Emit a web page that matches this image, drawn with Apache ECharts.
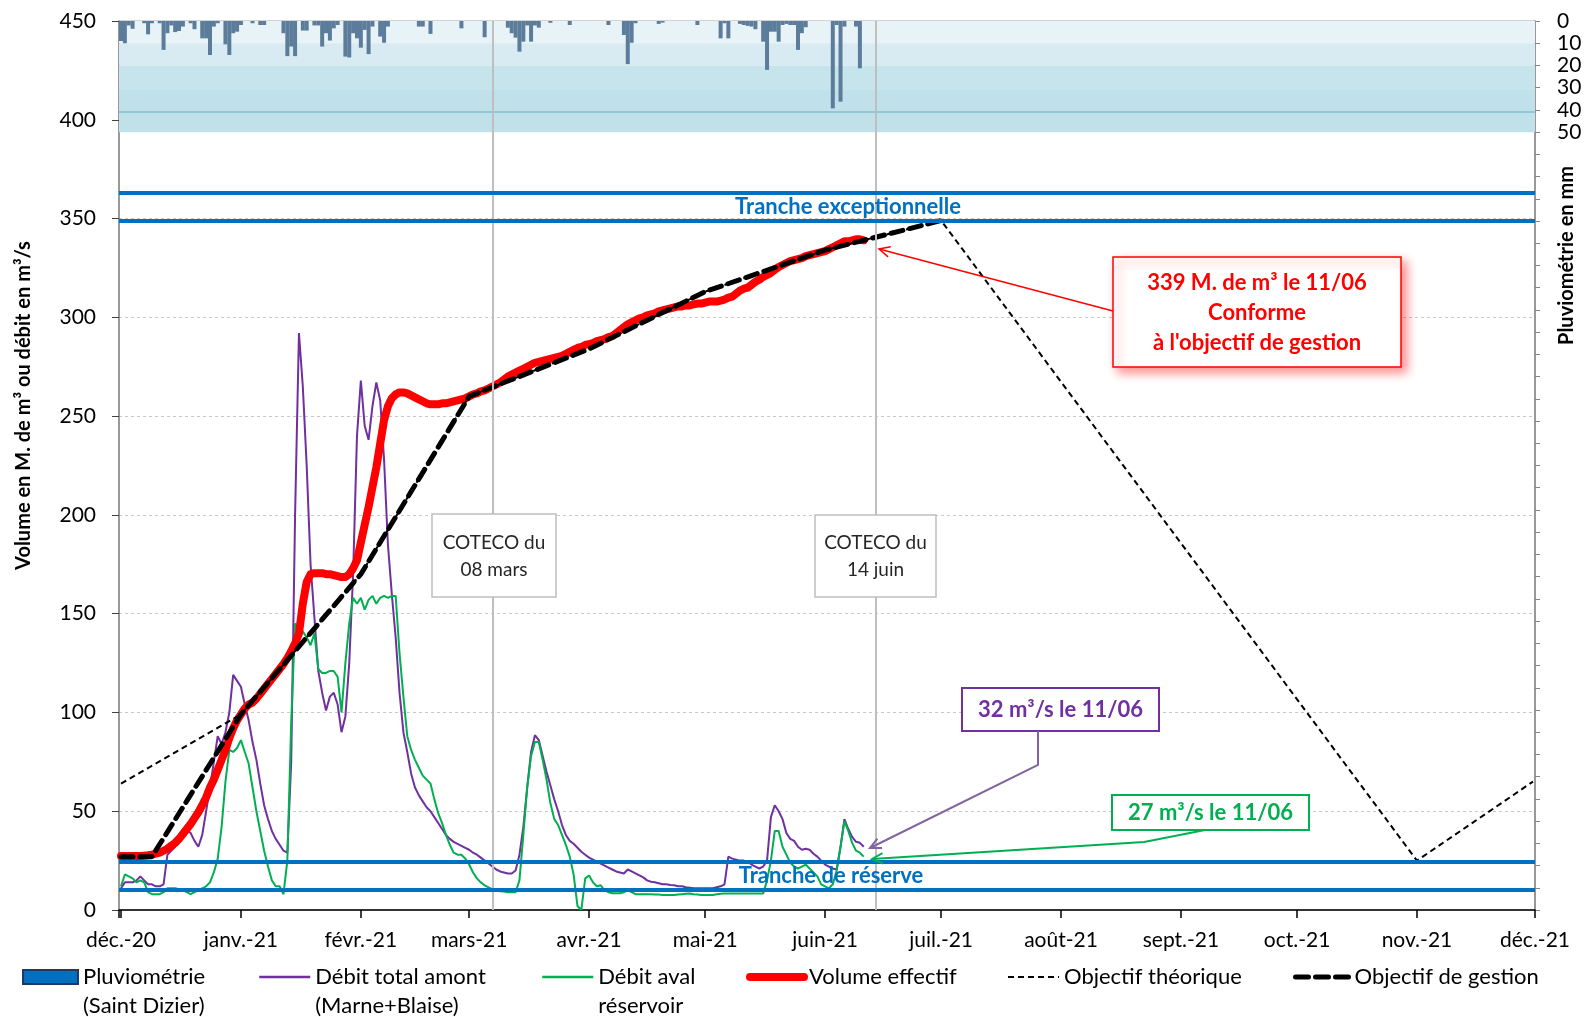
<!DOCTYPE html>
<html><head><meta charset="utf-8">
<script src="https://cdn.jsdelivr.net/npm/echarts@6/dist/echarts.min.js"></script>
<style>html,body{margin:0;padding:0;background:#fff}#c{width:1587px;height:1017px}</style>
</head><body><div id="c"></div>
<script>
const FONT = 'Lato';
const monthLabels = ['déc.-20','janv.-21','févr.-21','mars-21','avr.-21','mai-21','juin-21','juil.-21','août-21','sept.-21','oct.-21','nov.-21','déc.-21'];
// daily values from 2020-12-01 to 2021-06-11
const pluvio = [
 9,10,2,3.5,0,0,1,6,1,0,
 1,13,5.5,2,5,4.5,2.5,0,1,3.7,
 0,7.8,7.8,15.3,2.5,1,0,10.5,15.3,5.5,
 4.8,1.8,0,0,1,0,1.8,1.8,0,0,
 0,0,5.5,15.8,11.5,15.8,0,4.3,4.3,0,
 2,2,11.5,5.5,8.8,3.3,1.8,0,16,16.4,
 5.5,7.8,12,4,14.9,2.5,0,7,9.8,2.5,
 0,0,0,0,0,0,0,2.5,2.5,0,
 5.8,0,0,0,0,0,0,0,3.3,0,
 0,0,0,0,7.3,0,0,0,0,0,
 3,5.5,7.5,13.8,9.3,2,9.3,2,3,0,
 0,0.8,0,0,0,0,1.8,0,0,0,
 0,0,0,0,0,0,1.8,0,0,0,
 6.3,19.4,9.8,1,0,0,0,0,0,1.3,
 0.7,0,0,0,0,0,0,0,0,1.8,
 0,0,0,0,0,7.8,1,7.8,0,0,
 1.3,1.8,2.2,2.5,3.7,0,9.3,22,4.8,4.8,
 9.3,1.8,1.3,1.8,1.8,13,5.5,2.8,0,0,
 0,0,0,0,39.3,1.8,36.3,2.5,0,0,
 2.5,21.3,0];
const debitAmont = [
 11,14,14,14,15,17,15,13,13,12,
 12,13,28,30,32,36,41,40,39,35,
 32,38,50,62,75,88,84,90,100,119,
 116,113,104,96,85,76,64,53,46,40,
 36,33,30,29,75,200,292,265,225,175,
 148,121,110,101,108,110,104,90,98,125,
 170,240,268,245,238,255,267,258,228,185,
 160,138,110,90,80,69,62,58,55,52,
 50,47,44,41,38,36,34.5,33.5,32.5,31.5,
 30.5,29,28,26.5,25,23.5,22,20.5,19.5,19,
 18.5,18.5,20,28,42,62,80,88.5,86,78,
 70,63,56,50,43,38,35,33.5,31.5,29.5,
 28,26.5,25.5,24.5,23.5,22.5,21.5,20.5,19.5,19,
 18.5,20.5,19.5,18.5,17.5,16.5,15,14.3,14,13.5,
 13,13,12.7,12.5,12,12,11.5,11.3,11,11,
 11,11,11,11,11.5,12,13,27,26,25.5,
 25,25,24.5,23,22,21,22,25,47,53,
 50,46,39,36,35,32,30.5,31,30.5,28.5,
 27,25,23,22,21,20.5,32,46,41,37,
 34.5,34,32];
const debitAval = [
 12,18,17,16,14,15,14,9,8,8,
 8,9,11,11,11,10.5,10,9,8,9,
 10,11,12,14,19,26,42,65,81,80,
 82,86,80,74,62,50,40,30,22,15,
 12,12,8,25,95,145,143,141,138,134,
 140,122,120,120,121,121,118,100,125,145,
 158,155,158,152,157,159,155,158,159,158,
 159,159,130,108,88,81,76,72,68,66,
 64,56,49,44,38,33,29,28,28,26,
 23,19,16,14,12.5,11.5,10.5,10,9.5,9.3,
 9,9,9,15,38,62,78,85,85,76,
 66,54,46,43,38,33,27,18,2,0,
 16,17.5,14,12,12.5,10,9,8.5,8.5,8.5,
 9,10,9,8,8,8,8,8,7.8,7.8,
 7.6,7.6,7.6,7.6,7.8,8,8.2,8.4,8,7.8,
 7.6,7.6,7.6,7.6,8,8.2,8.4,8.4,8.4,8.4,
 8.4,8.4,8.4,8.4,8.4,8.4,8.4,15,25,40,
 40,32,28,24,22,21,22,23,21,19,
 17,13,12,11,13,20,32,45,40,34,
 30,29,27];
const volume = [
 27.3,27.3,27.3,27.3,27.3,27.3,27.5,27.7,28,28.5,
 29,30,31,32.5,34,36,38.5,41,43.5,46.5,
 49.5,53,57,62,66,71,76,81,87,92,
 96,99,102,104,105,107,109.5,112,114.5,117,
 119.5,122,124.5,127.5,131,135,140,155,166,170,
 170.5,170.5,170.5,170,170,169.5,169,168.5,168.5,170,
 173,177,186,195,204,214,224,236,248,255,
 259,261,262,262,261.5,260.5,259.5,258.5,257.5,256.5,
 256,256,256,256.5,256.5,257,257.5,258,258.5,259,
 260,261,261.5,262.5,263,264,265,266,267,268.5,
 270,271,272,273,274,275,276,277,277.5,278,
 278.5,279,279.5,280,280.5,281.5,282.5,283.5,284.5,285,
 286,286.5,287,288,288.5,289,290,290.5,292,293.5,
 295,296.5,297.5,298.5,299.5,300,301,301.5,302,303,
 303.5,304,304.5,305,305.5,305.5,306,306,306.5,307,
 307,307.5,308,308,308,308.5,309,310,310.5,312,
 313.5,314.5,315,316.5,318,319,320.5,321.5,322.5,324,
 325.5,326.5,327.5,328.5,329,329.5,330,331,331.5,332,
 332.5,333,333.5,334.5,335.5,336.5,337.5,338.5,338.5,339,
 339.5,339.5,339];
const gestionDates = ['2020-12-01','2020-12-09','2021-01-01','2021-02-01','2021-03-01','2021-04-01','2021-05-01','2021-06-01','2021-07-01'];
const gestionValues = [27, 27, 99, 170, 260, 284, 313, 334, 349];
const theoDates = ['2020-12-01','2021-01-01','2021-02-01','2021-03-01','2021-04-01','2021-05-01','2021-06-01','2021-07-01','2021-11-01','2021-12-01'];
const theoValues = [64, 99, 170, 260, 284, 313, 334, 349, 25, 65];
const trancheExc = [363, 349];
const trancheRes = [24.5, 10];
const cotecoDates = ['2021-03-07', '2021-06-14'];
const bandLimits = [0, 10, 20, 31, 50];
const bandColors = ['#e8f3f8', '#d8ebf2', '#c6e4ec', '#c0e1e9'];

function dayDate(i){ return new Date(2020, 11, 1 + i).getTime(); }
function parseD(s){ const p = s.split('-').map(Number); return new Date(p[0], p[1]-1, p[2]).getTime(); }
const daily = arr => arr.map((v, i) => [dayDate(i), v]);
const pairs = (ds, vs) => ds.map((d, i) => [parseD(d), vs[i]]);

function arrowHead(tip, from, len, ang){
  const dx = from[0]-tip[0], dy = from[1]-tip[1], L = Math.hypot(dx, dy);
  const ux = dx/L, uy = dy/L, c = Math.cos(ang), s = Math.sin(ang);
  return [[tip[0]+len*(ux*c-uy*s), tip[1]+len*(ux*s+uy*c)], tip, [tip[0]+len*(ux*c+uy*s), tip[1]+len*(-ux*s+uy*c)]];
}

const chart = echarts.init(document.getElementById('c'), null, {renderer:'canvas'});
const legendBase = {orient:'horizontal', padding:0, itemGap:0, selectedMode:false, itemWidth:51, itemHeight:14,
  textStyle:{fontFamily:FONT, fontSize:22, color:'#000', lineHeight:29}};
const L1 = 962.5, L3 = 933.5;
const hideSym = {opacity: 0, color: 'rgba(0,0,0,0)', borderWidth: 0};

const purpleTip = [870, 848], greenTip = [872, 859], redTip = [879, 249];
const purplePts = [[1038, 731], [1038, 765], purpleTip];
const greenPts = [[1205, 830], [1144, 842], greenTip];
const redPts = [[1113, 311], redTip];
const xMin = parseD('2020-12-01'), xMax = parseD('2021-12-01');

const option = {
  animation: false,
  backgroundColor: '#fff',
  grid: {left: 119, right: 52, top: 21, bottom: 107, containLabel: false, outerBoundsMode: 'none', show: true, borderColor: '#a6a6a6', borderWidth: 1},
  legend: [
    Object.assign({}, legendBase, {left: 22, top: L3, itemWidth: 55, data: [{name: 'Pluviométrie (Saint Dizier)', icon: 'rect', itemStyle: {color: '#0070c0', borderColor: '#1f3864', borderWidth: 2}}], formatter: () => '\nPluviométrie\n(Saint Dizier)'}),
    Object.assign({}, legendBase, {left: 258, top: L3, data: [{name: 'Débit total amont (Marne+Blaise)', itemStyle: hideSym, lineStyle: {width: 2.5}}], formatter: () => '\nDébit total amont\n(Marne+Blaise)'}),
    Object.assign({}, legendBase, {left: 541, top: L3, data: [{name: 'Débit aval réservoir', itemStyle: hideSym, lineStyle: {width: 2.5}}], formatter: () => '\nDébit aval\nréservoir'}),
    Object.assign({}, legendBase, {left: 746, top: L1, itemWidth: 54, data: [{name: 'Volume effectif', itemStyle: hideSym, lineStyle: {width: 8, cap: 'round'}}]}),
    Object.assign({}, legendBase, {left: 1007, top: L1, data: [{name: 'Objectif théorique', itemStyle: hideSym, lineStyle: {width: 2, type: [6, 4]}}]}),
    Object.assign({}, legendBase, {left: 1293, top: L1, itemWidth: 54, data: [{name: 'Objectif de gestion', itemStyle: hideSym, lineStyle: {width: 5, type: [13, 7], cap: 'round'}}]})
  ],
  xAxis: {
    type: 'time', min: xMin, max: xMax,
    splitNumber: 12, minInterval: 28*86400000, maxInterval: 31*86400000,
    axisLine: {show: true, lineStyle: {color: '#000', width: 1.5}},
    axisTick: {show: true, length: 8, lineStyle: {color: '#000', width: 1.5}},
    axisLabel: {fontFamily: FONT, fontSize: 21, color: '#000', margin: 20, showMinLabel: true, showMaxLabel: true,
      formatter: function(v){ const d = new Date(v); const k = (d.getFullYear()-2020)*12 + d.getMonth() - 11; return monthLabels[k] || ''; }},
    splitLine: {show: false}
  },
  yAxis: [
    {type: 'value', min: 0, max: 450, interval: 50, position: 'left',
     name: 'Volume en M. de m³ ou débit en m³/s', nameLocation: 'middle', nameGap: 85, nameRotate: 90,
     nameTextStyle: {fontFamily: FONT, fontWeight: 'bold', fontSize: 20, color: '#000', padding: [0, 0, 0, 120]},
     axisLine: {show: true, lineStyle: {color: '#868686', width: 1.5}},
     axisTick: {show: true, length: 7, lineStyle: {color: '#404040'}},
     axisLabel: {fontFamily: FONT, fontSize: 21, color: '#000', margin: 23},
     splitLine: {show: true, lineStyle: {color: '#c8c8c8', type: [3, 3]}}},
    {type: 'value', min: 0, max: 400, interval: 10, inverse: true, position: 'right',
     name: 'Pluviométrie en mm', nameLocation: 'middle', nameGap: 22, nameRotate: 90, nameMoveOverlap: false,
     nameTextStyle: {fontFamily: FONT, fontWeight: 'bold', fontSize: 20, color: '#000', padding: [0, 0, 0, 420]},
     axisLine: {show: true, lineStyle: {color: '#868686', width: 1.5}},
     axisTick: {show: true, length: 5, lineStyle: {color: '#868686'}},
     axisLabel: {fontFamily: FONT, fontSize: 21, color: '#000', margin: 22, formatter: v => (v <= 50 ? String(v) : '')},
     splitLine: {show: false}}
  ],
  series: [
    {name: 'Pluviométrie (Saint Dizier)', type: 'bar', yAxisIndex: 1, barWidth: 4, itemStyle: {color: '#5b7c9b'},
     data: daily(pluvio),
     markArea: {silent: true, data: bandColors.map((c, i) => [{yAxis: bandLimits[i], itemStyle: {color: c}}, {yAxis: bandLimits[i+1]}])},
     markLine: {silent: true, symbol: 'none', label: {show: false}, lineStyle: {color: '#8fc7d7', width: 2, type: 'solid'}, data: [{yAxis: 41}]}},
    {name: 'Débit total amont (Marne+Blaise)', type: 'line', symbol: 'none', lineStyle: {color: '#7030a0', width: 2}, itemStyle: {color: '#7030a0'},
     data: daily(debitAmont),
     markLine: {silent: true, symbol: 'none', label: {show: false}, lineStyle: {color: '#bfbfbf', width: 2, type: 'solid'},
       data: cotecoDates.map(d => ({xAxis: parseD(d)}))}},
    {name: 'Débit aval réservoir', type: 'line', symbol: 'none', lineStyle: {color: '#00b050', width: 2}, itemStyle: {color: '#00b050'},
     data: daily(debitAval)},
    {name: 'Volume effectif', type: 'line', symbol: 'none', lineStyle: {color: '#ff0000', width: 8, cap: 'round', join: 'round'}, itemStyle: {color: '#ff0000'},
     data: daily(volume)},
    {name: 'Objectif théorique', type: 'line', symbol: 'none', lineStyle: {color: '#000', width: 2, type: [6, 4]}, itemStyle: {color: '#000'},
     data: pairs(theoDates, theoValues)},
    {name: 'Objectif de gestion', type: 'line', symbol: 'none', lineStyle: {color: '#000', width: 5, type: [12, 7], cap: 'round'}, itemStyle: {color: '#000'},
     data: pairs(gestionDates, gestionValues),
     markLine: {silent: true, symbol: 'none', lineStyle: {color: '#0070c0', width: 4, type: 'solid'},
       label: {show: false},
       data: [
         {yAxis: trancheExc[0]},
         {yAxis: trancheExc[1], label: {show: true, formatter: 'Tranche exceptionnelle', position: 'insideMiddleTop', distance: 3, color: '#0070c0', fontFamily: FONT, fontWeight: 'bold', fontSize: 22, padding: [0, 0, 0, 42]}},
         {yAxis: trancheRes[0], label: {show: true, formatter: 'Tranche de réserve', position: 'insideMiddleBottom', distance: 3, color: '#0070c0', fontFamily: FONT, fontWeight: 'bold', fontSize: 22, padding: [0, 0, 0, 8]}},
         {yAxis: trancheRes[1]}
       ]}}
  ],
  graphic: [
    {type: 'rect', shape: {x: 432, y: 514, width: 124, height: 83}, style: {fill: '#fff', stroke: '#bfbfbf', lineWidth: 1.5}, z: 100},
    {type: 'text', x: 494, y: 556, style: {text: 'COTECO du\n08 mars', fontFamily: FONT, fontSize: 19, fill: '#262626', align: 'center', verticalAlign: 'middle', lineHeight: 27}, z: 101},
    {type: 'rect', shape: {x: 815, y: 515, width: 121, height: 82}, style: {fill: '#fff', stroke: '#bfbfbf', lineWidth: 1.5}, z: 100},
    {type: 'text', x: 875.5, y: 556, style: {text: 'COTECO du\n14 juin', fontFamily: FONT, fontSize: 19, fill: '#262626', align: 'center', verticalAlign: 'middle', lineHeight: 27}, z: 101},
    {type: 'rect', shape: {x: 1113, y: 257, width: 288, height: 110}, style: {fill: '#fff', stroke: '#ff0000', lineWidth: 1.5, shadowBlur: 10, shadowColor: 'rgba(255,0,0,0.45)', shadowOffsetX: 5, shadowOffsetY: 5}, z: 100},
    {type: 'text', x: 1257, y: 313, style: {text: '339 M. de m³ le 11/06\nConforme\nà l\'objectif de gestion', fontFamily: FONT, fontSize: 22, fontWeight: 'bold', fill: '#ff0000', align: 'center', verticalAlign: 'middle', lineHeight: 30}, z: 101},
    {type: 'polyline', shape: {points: redPts}, style: {stroke: '#ff0000', lineWidth: 1.5, fill: null}, z: 100},
    {type: 'polyline', shape: {points: arrowHead(redTip, redPts[0], 12, 0.45)}, style: {stroke: '#ff0000', lineWidth: 1.5, fill: null}, z: 100},
    {type: 'rect', shape: {x: 962, y: 688, width: 197, height: 43}, style: {fill: '#fff', stroke: '#7030a0', lineWidth: 2}, z: 100},
    {type: 'text', x: 1060.5, y: 709.5, style: {text: '32 m³/s le 11/06', fontFamily: FONT, fontSize: 22, fontWeight: 'bold', fill: '#7030a0', align: 'center', verticalAlign: 'middle'}, z: 101},
    {type: 'polyline', shape: {points: purplePts}, style: {stroke: '#8064a2', lineWidth: 2, fill: null}, z: 100},
    {type: 'polyline', shape: {points: arrowHead(purpleTip, purplePts[1], 12, 0.45)}, style: {stroke: '#8064a2', lineWidth: 2, fill: null}, z: 100},
    {type: 'rect', shape: {x: 1112, y: 795, width: 197, height: 35}, style: {fill: '#fff', stroke: '#00b050', lineWidth: 2}, z: 100},
    {type: 'text', x: 1210.5, y: 812.5, style: {text: '27 m³/s le 11/06', fontFamily: FONT, fontSize: 22, fontWeight: 'bold', fill: '#00b050', align: 'center', verticalAlign: 'middle'}, z: 101},
    {type: 'polyline', shape: {points: greenPts}, style: {stroke: '#00b050', lineWidth: 2, fill: null}, z: 100},
    {type: 'polyline', shape: {points: arrowHead(greenTip, greenPts[1], 12, 0.45)}, style: {stroke: '#00b050', lineWidth: 2, fill: null}, z: 100}
  ]
};
chart.setOption(option);
</script></body></html>
